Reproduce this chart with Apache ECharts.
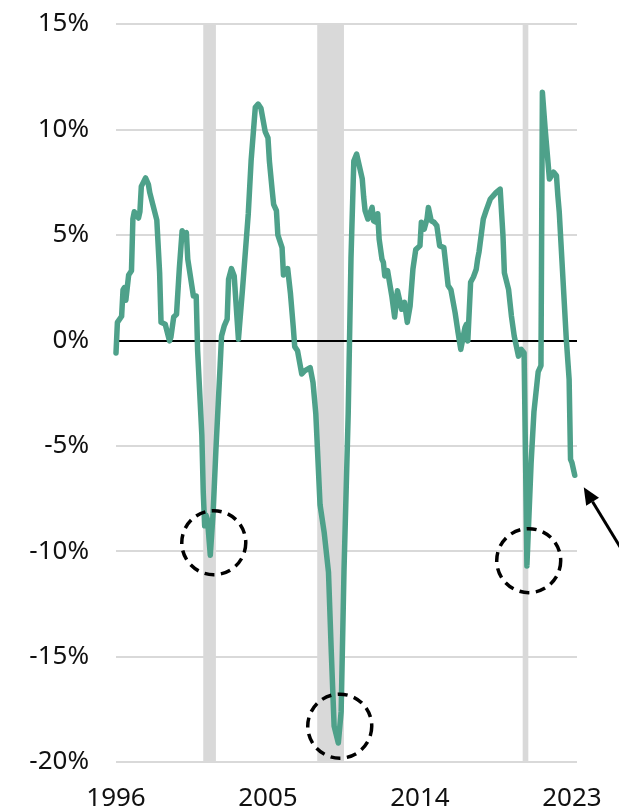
<!DOCTYPE html>
<html>
<head>
<meta charset="utf-8">
<script src="https://cdn.jsdelivr.net/npm/echarts@6/dist/echarts.min.js"></script>
<style>
  html, body { margin: 0; padding: 0; background: #ffffff; }
  #chart { width: 619px; height: 812px; }
</style>
</head>
<body>
<div id="chart"></div>
<script>
// Monthly observations (year-month) and year-over-year change in percent
const months = [
  '1996-01','1996-02','1996-05','1996-06','1996-07','1996-08','1996-10','1996-12',
  '1997-01','1997-02','1997-05','1997-06','1997-07','1997-10','1997-12',
  '1998-01','1998-06','1998-08','1998-09','1998-12',
  '1999-03','1999-04','1999-06','1999-08','1999-10','1999-12',
  '2000-01','2000-03','2000-04','2000-05','2000-08','2000-10','2000-11',
  '2001-02','2001-03','2001-04','2001-05','2001-06','2001-08','2001-10','2001-12',
  '2002-03','2002-04','2002-06','2002-08','2002-09','2002-11',
  '2003-01','2003-04','2003-07','2003-11',
  '2004-01','2004-04','2004-06','2004-08','2004-11',
  '2005-01','2005-02','2005-04','2005-05','2005-07','2005-08','2005-11','2005-12',
  '2006-03','2006-05','2006-07','2006-08','2006-10',
  '2007-01','2007-03','2007-07','2007-09','2007-11',
  '2008-02','2008-05','2008-08','2008-10','2008-12',
  '2009-03','2009-05','2009-07','2009-10','2009-11','2009-12',
  '2010-02','2010-04','2010-08','2010-09','2010-10','2010-12',
  '2011-03','2011-04','2011-06','2011-07','2011-08','2011-10','2011-11','2011-12',
  '2012-02','2012-05','2012-07','2012-09','2012-12',
  '2013-02','2013-04','2013-06','2013-08','2013-10',
  '2014-01','2014-02','2014-04','2014-06','2014-07','2014-09','2014-11',
  '2015-01','2015-03','2015-06','2015-08','2015-09','2015-11',
  '2016-02','2016-04','2016-06','2016-09','2016-10','2016-11',
  '2017-01','2017-03','2017-05','2017-06','2017-07','2017-10','2017-12',
  '2018-03','2018-05','2018-07','2018-10','2018-12',
  '2019-01','2019-04','2019-06','2019-08','2019-11',
  '2020-01','2020-03','2020-04','2020-05','2020-08','2020-10',
  '2021-01','2021-03','2021-04','2021-06','2021-09','2021-10','2021-12',
  '2022-02','2022-03','2022-04','2022-09','2022-11','2022-12',
  '2023-01','2023-03'
];
const values = [
  -0.6, 0.85, 1.14, 2.4, 2.5, 1.9, 3.1, 3.3,
  5.75, 6.1, 5.8, 6.1, 7.3, 7.7, 7.4,
  7.0, 5.7, 3.2, 0.85, 0.76,
  -0.03, 0.14, 1.1, 1.23, 3.4, 5.2,
  5.0, 5.1, 3.85, 3.8, 2.1, 2.1, -0.5,
  -4.5, -7.2, -8.8, -8.3, -8.5, -10.2, -8.2, -5.2,
  -1.2, 0.2, 0.7, 1.0, 2.9, 3.4,
  3.05, 0.05, 2.5, 6.0,
  8.5, 11.05, 11.2, 11.0, 9.9,
  9.6, 8.5, 7.1, 6.45, 6.15, 5.0, 4.4, 3.1,
  3.4, 2.2, 0.6, -0.3, -0.5,
  -1.6, -1.45, -1.3, -2.0, -3.5,
  -7.8, -9.15, -11.0, -14.8, -18.3,
  -19.1, -17.6, -11.0, -3.5, 0.2, 3.9,
  8.5, 8.83, 7.65, 6.8, 6.15, 5.75,
  6.3, 5.67, 5.6, 6.0, 4.8, 3.85, 3.7, 3.05,
  3.3, 2.1, 1.1, 2.35, 1.47,
  1.8, 0.85, 1.63, 3.37, 4.3,
  4.48, 5.6, 5.27, 5.75, 6.3, 5.67, 5.6,
  5.43, 4.48, 4.4, 3.2, 2.6, 2.4,
  1.3, 0.4, -0.43, 0.6, 0.76, -0.03,
  2.75, 3.0, 3.37, 3.85, 4.2, 5.75, 6.15,
  6.7, 6.85, 7.0, 7.17, 4.95,
  3.2, 2.4, 1.15, 0.2, -0.75,
  -0.43, -0.6, -5.5, -10.7, -5.8, -3.4,
  -1.5, -1.2, 11.76, 10.0, 7.65, 7.65, 7.97,
  7.8, 6.85, 6.07, 0.05, -1.85, -5.65,
  -5.8, -6.4
];

// Recession periods: [first month, first month after the end]
const recessions = [
  ['2001-03', '2001-12'],
  ['2007-12', '2009-07'],
  ['2020-02', '2020-06']
];

// Axis ticks
const xTickYears = [1996, 2005, 2014, 2023];
const yTicks = [-20, -15, -10, -5, 0, 5, 10, 15];

// Highlighted troughs (centre of each dashed ring, in axis units)
const troughRings = [[2001.79, -9.6], [2009.25, -18.3], [2020.44, -10.45]];

function toYear(s) {
  const [y, m] = s.split('-').map(Number);
  return y + (m - 1) / 12;
}

const lineData = months.map((m, i) => [toYear(m), values[i]]);
const yStep = yTicks[1] - yTicks[0];
const xStep = xTickYears[1] - xTickYears[0];

const FONT = '"Noto Sans", "Open Sans", sans-serif';
const GREEN = '#4ea18a';
const GREY = '#d9d9d9';

const chart = echarts.init(document.getElementById('chart'), null, { renderer: 'canvas' });

chart.setOption({
  animation: false,
  backgroundColor: '#ffffff',
  grid: { left: 116, right: 42, top: 24, bottom: 50, containLabel: false },
  xAxis: {
    type: 'value',
    min: xTickYears[0],
    max: 2023.3,
    interval: xStep,
    axisLine: { show: false },
    axisTick: { show: false },
    splitLine: { show: false },
    axisLabel: {
      show: true,
      margin: 24,
      color: '#111',
      fontFamily: FONT,
      fontSize: 26,
      showMaxLabel: false,
      formatter: v => (xTickYears.indexOf(v) >= 0 ? String(v) : '')
    }
  },
  yAxis: {
    type: 'value',
    min: yTicks[0],
    max: yTicks[yTicks.length - 1],
    interval: yStep,
    axisLine: { show: false },
    axisTick: { show: false },
    splitLine: { show: true, lineStyle: { color: GREY, width: 2 } },
    axisLabel: {
      margin: 27,
      color: '#111',
      fontFamily: FONT,
      fontSize: 26,
      formatter: '{value}%'
    }
  },
  series: [
    {
      // recession shading
      type: 'line',
      data: [],
      z: 1,
      silent: true,
      markArea: {
        silent: true,
        itemStyle: { color: GREY, opacity: 1 },
        data: recessions.map(r => [{ xAxis: toYear(r[0]) }, { xAxis: toYear(r[1]) }])
      }
    },
    {
      // zero reference line
      type: 'line',
      data: [],
      z: 2,
      silent: true,
      markLine: {
        silent: true,
        symbol: ['none', 'none'],
        label: { show: false },
        lineStyle: { color: '#000000', width: 2, type: 'solid' },
        data: [{ yAxis: 0 }]
      }
    },
    {
      type: 'line',
      data: lineData,
      z: 5,
      showSymbol: false,
      symbol: 'none',
      smooth: false,
      lineStyle: { color: GREEN, width: 5.5, cap: 'round', join: 'round' }
    }
  ]
});

// Dashed rings around the troughs and the pointer to the latest reading
function drawAnnotations() {
  const elements = [];
  troughRings.forEach(c => {
    const p = chart.convertToPixel({ gridIndex: 0 }, c);
    elements.push({
      type: 'circle',
      shape: { cx: p[0], cy: p[1], r: 32 },
      style: { fill: 'none', stroke: '#000', lineWidth: 3.5, lineDash: [10, 6.5] },
      z: 20
    });
  });

  const last = lineData[lineData.length - 1];
  const lp = chart.convertToPixel({ gridIndex: 0 }, last);
  const tip = [lp[0] + 9, lp[1] + 12];
  const dir = [0.52, 0.855];
  const tail = [tip[0] + dir[0] * 120, tip[1] + dir[1] * 120];
  const headLen = 17, headHalf = 7.5;
  const base = [tip[0] + dir[0] * headLen, tip[1] + dir[1] * headLen];
  const nrm = [-dir[1], dir[0]];
  elements.push({
    type: 'line',
    shape: { x1: base[0], y1: base[1], x2: tail[0], y2: tail[1] },
    style: { stroke: '#000', lineWidth: 3 },
    z: 20
  });
  elements.push({
    type: 'polygon',
    shape: {
      points: [
        tip,
        [base[0] + nrm[0] * headHalf, base[1] + nrm[1] * headHalf],
        [base[0] - nrm[0] * headHalf, base[1] - nrm[1] * headHalf]
      ]
    },
    style: { fill: '#000' },
    z: 20
  });
  chart.setOption({ graphic: { elements } });
}
drawAnnotations();
</script>
</body>
</html>
